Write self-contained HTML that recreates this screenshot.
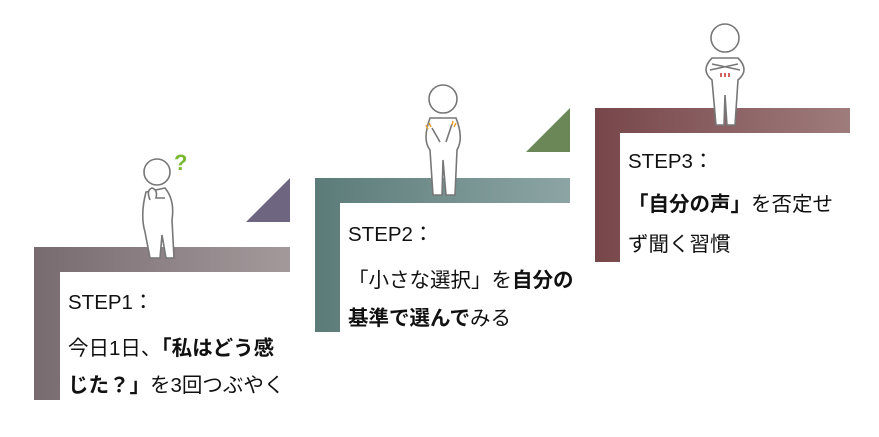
<!DOCTYPE html>
<html><head><meta charset="utf-8"><style>
html,body{margin:0;padding:0;background:#fff;width:879px;height:437px;overflow:hidden;position:relative}
.t{position:absolute;font-family:"Liberation Sans","Noto Sans CJK JP",sans-serif;font-size:20.5px;color:#111;white-space:nowrap;line-height:1}
b{font-weight:bold}
</style></head><body>
<svg width="879" height="437" style="position:absolute;left:0;top:0">
<defs>
<linearGradient id="g1" x1="0" x2="1"><stop offset="0" stop-color="#786b70"/><stop offset="1" stop-color="#a3999b"/></linearGradient>
<linearGradient id="g2" x1="0" x2="1"><stop offset="0" stop-color="#5b7b79"/><stop offset="1" stop-color="#8ca5a4"/></linearGradient>
<linearGradient id="g3" x1="0" x2="1"><stop offset="0" stop-color="#77464a"/><stop offset="1" stop-color="#9f7c7c"/></linearGradient>
</defs>
<path d="M34 247H290V272H60V400H34Z" fill="url(#g1)"/>
<path d="M315 178H570V203H340V332H315Z" fill="url(#g2)"/>
<path d="M595 108H850V133H620V262H595Z" fill="url(#g3)"/>
<path d="M290 178V222H246Z" fill="#6e6680"/>
<path d="M570 108V152H526Z" fill="#6b8657"/>
<g fill="#fff" stroke="#777" stroke-width="1.6">
<path d="M146 192 Q140 215 145 232 L150 258 L160 258 L162 235 L166 258 L174 258 L172 220 Q175 200 165 188 Z"/>
<circle cx="157" cy="172" r="13"/>
<path d="M150 200 Q146 190 152 188 Q158 190 156 198 L165 198"/>
<path d="M430 118 Q422 140 430 150 L433 195 L442 195 L443 160 L446 195 L455 195 L457 150 Q464 138 456 118 Z"/>
<circle cx="443" cy="99" r="14"/>
<path d="M432 128 L440 142 M452 124 L446 142"/>
<path d="M712 58 Q700 70 712 80 L716 125 L724 125 L725 95 L727 125 L735 125 L738 80 Q750 70 738 58 Z"/>
<circle cx="725" cy="38" r="14"/>
<path d="M710 70 L738 64 M740 70 L712 64"/>
</g>
<text x="174" y="170" font-family="Liberation Sans" font-weight="bold" font-size="22" fill="#7ab82e">?</text>
<g stroke="#e8a030" stroke-width="1.5"><path d="M426 125l2 4M429 123l2 4M453 121l-1 4M456 123l-2 4"/></g>
<g stroke="#c0302a" stroke-width="1.5"><path d="M721 73v4M725 73v4M729 73v4"/></g>
</svg>
<div class="t" style="left:68px;top:293px">STEP1：</div>
<div class="t" style="left:68px;top:339px">今日1日、<b>「私はどう感</b></div>
<div class="t" style="left:68px;top:376px"><b>じた？」</b>を3回つぶやく</div>
<div class="t" style="left:348px;top:225px">STEP2：</div>
<div class="t" style="left:348px;top:271px">「小さな選択」を<b>自分の</b></div>
<div class="t" style="left:348px;top:309px"><b>基準で選んで</b>みる</div>
<div class="t" style="left:628px;top:152px">STEP3：</div>
<div class="t" style="left:628px;top:195px"><b>「自分の声」</b>を否定せ</div>
<div class="t" style="left:628px;top:235px">ず聞く習慣</div>
</body></html>
